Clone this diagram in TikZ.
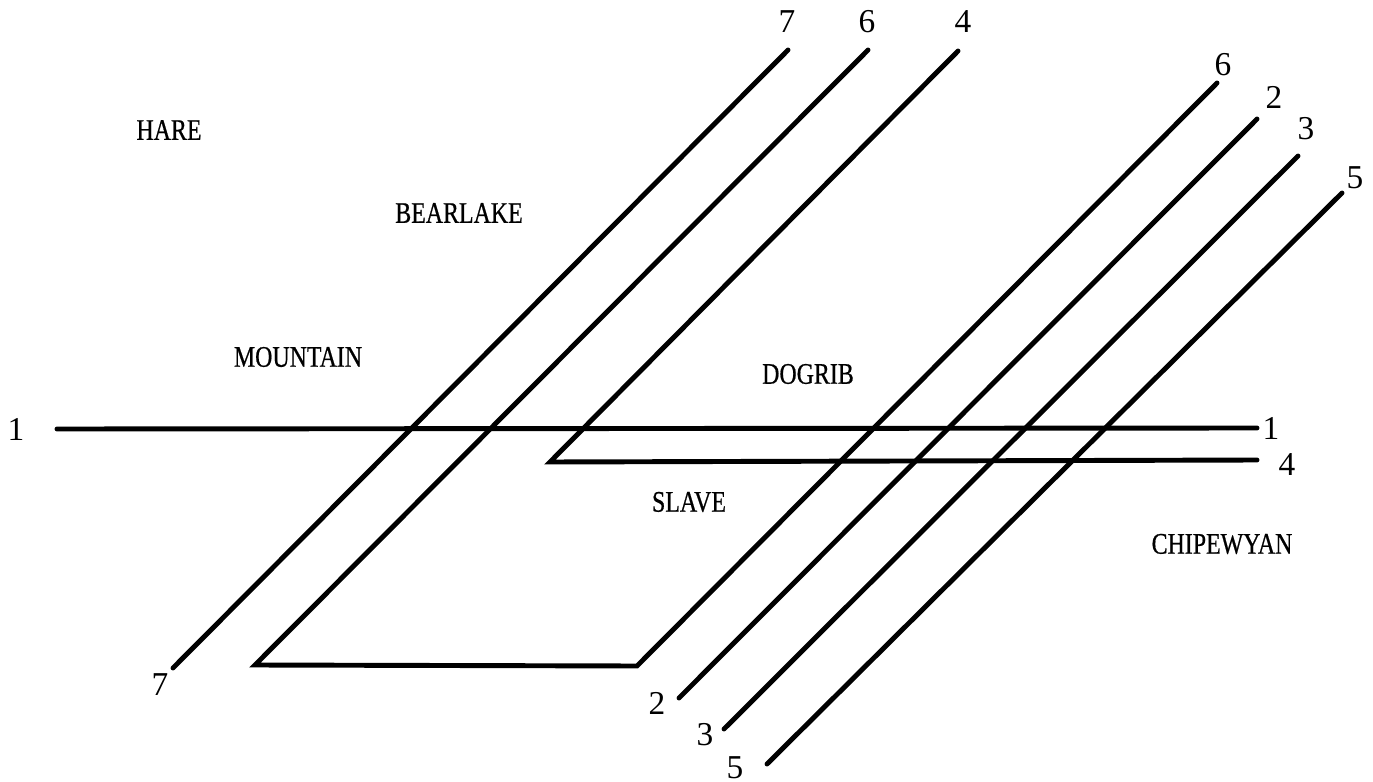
\documentclass[tikz,border=0pt]{standalone}
\usepackage{fontspec}
\setmainfont{Liberation Serif}
\newfontfamily\narrowfont[FakeStretch=0.8, FakeBold=0.6]{Liberation Serif}
\usetikzlibrary{positioning}

\begin{document}
\begin{tikzpicture}[
    x=0.1mm, y=-0.1mm,
    iso/.style={line width=1.4pt, line cap=round, line join=miter},
    lang/.style={font=\narrowfont\fontsize{8.5}{10}\selectfont, inner sep=0pt},
    num/.style={font=\fontsize{9.5}{11}\selectfont, inner sep=0pt}
]
    \useasboundingbox (0,0) rectangle (1373,782);

    % ================= LANGUAGE NAMES =================
    \node[lang] (hare) at (169, 130) {HARE};
    \node[lang] (bear) at (459, 213) {BEARLAKE};
    \node[lang] (mount) at (298, 357) {MOUNTAIN};
    \node[lang] (dog) at (808, 374) {DOGRIB};
    \node[lang] (slave) at (689, 502) {SLAVE};
    \node[lang] (chip) at (1222, 544) {CHIPEWYAN};

    % ================= ISOGLOSS END POINTS =================
    \coordinate (a1) at (57, 429);   \coordinate (b1) at (1257, 428);
    \coordinate (a7) at (788, 50);   \coordinate (b7) at (173, 668);
    \coordinate (a6) at (868, 50);   \coordinate (c6) at (255, 665);
    \coordinate (d6) at (637, 666);  \coordinate (b6) at (1217, 83);
    \coordinate (a4) at (958, 51);   \coordinate (c4) at (550, 462);
    \coordinate (b4) at (1257, 460);
    \coordinate (a2) at (1257, 119); \coordinate (b2) at (679, 698);
    \coordinate (a3) at (1298, 156); \coordinate (b3) at (724, 729);
    \coordinate (a5) at (1342, 193); \coordinate (b5) at (767, 764);

    % ================= ISOGLOSSES =================
    \draw[iso] (a1) -- (b1);
    \draw[iso] (a7) -- (b7);
    \draw[iso] (a6) -- (c6) -- (d6) -- (b6);
    \draw[iso] (a4) -- (c4) -- (b4);
    \draw[iso] (a2) -- (b2);
    \draw[iso] (a3) -- (b3);
    \draw[iso] (a5) -- (b5);

    % ================= NUMBERS =================
    \node[num] (n1l) at (16, 429) {1};
    \node[num] (n1r) at (1271, 428) {1};
    \node[num] (n4r) at (1287, 465) {4};
    \node[num] (n7t) at (787, 22) {7};
    \node[num] (n6t) at (867, 22) {6};
    \node[num] (n4t) at (963, 22) {4};
    \node[num] (n6r) at (1223, 65) {6};
    \node[num] (n2t) at (1274, 97) {2};
    \node[num] (n3t) at (1306, 129) {3};
    \node[num] (n5t) at (1355, 178) {5};
    \node[num] (n7b) at (160, 685) {7};
    \node[num] (n2b) at (657, 703) {2};
    \node[num] (n3b) at (705, 735) {3};
    \node[num] (n5b) at (735, 768) {5};

\end{tikzpicture}
\end{document}
